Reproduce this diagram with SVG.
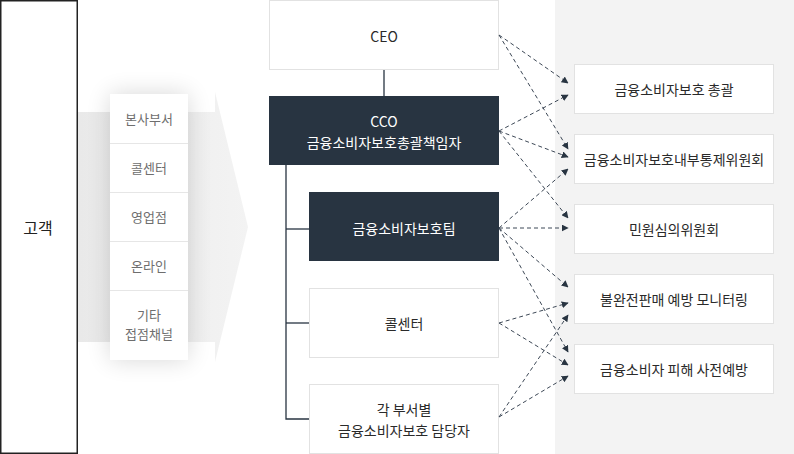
<svg xmlns="http://www.w3.org/2000/svg" width="794" height="454" viewBox="0 0 794 454">
<defs>
<style>
text{font-family:"Noto Sans CJK KR","Noto Sans",sans-serif;text-anchor:middle;dominant-baseline:central}
.wbox{fill:#fff;stroke:#e2e2e2;stroke-width:1}
.dbox{fill:#283441}
.t{font-size:14px;fill:#2a2a2a}
.tw{font-size:14px;fill:#fff}
.ch{font-size:13px;fill:#6e6e6e}
.sep{stroke:#e6e6e6;stroke-width:1}
.tree{stroke:#283441;stroke-width:1.3;fill:none}
.dash{stroke:#3d4856;stroke-width:1;stroke-dasharray:4 3;fill:none;marker-end:url(#ah)}
</style>
<marker id="ah" viewBox="0 0 10 10" refX="9" refY="5" markerWidth="7" markerHeight="7" orient="auto" markerUnits="userSpaceOnUse">
<path d="M0,0 L10,5 L0,10 z" fill="#283441"/>
</marker>
<linearGradient id="arrowg" x1="0" y1="0" x2="1" y2="0">
<stop offset="0" stop-color="#e9e9e9"/>
<stop offset="1" stop-color="#f3f3f3"/>
</linearGradient>
<filter id="sh" x="-60%" y="-30%" width="220%" height="160%">
<feGaussianBlur in="SourceAlpha" stdDeviation="12"/>
<feComponentTransfer><feFuncA type="linear" slope="0.16"/></feComponentTransfer>
<feMerge><feMergeNode/><feMergeNode in="SourceGraphic"/></feMerge>
</filter>
</defs>
<rect x="0" y="0" width="794" height="454" fill="#fff"/>
<rect x="555" y="0" width="239" height="454" fill="#f3f3f3"/>

<g id="customer">
<rect x="0.75" y="0.75" width="76.5" height="452.5" fill="#fff" stroke="#222" stroke-width="1.5"/>
<text x="38" y="227" style="font-size:16px;fill:#222">고객</text>
</g>

<g id="channel-arrow">
<polygon points="78,112 215,112 215,92 248,227 215,362 215,342 78,342" fill="url(#arrowg)"/>
</g>

<g id="channels">
<rect x="110" y="94" width="78" height="266" fill="#fff" filter="url(#sh)"/>
<line class="sep" x1="110" y1="143.5" x2="188" y2="143.5"/>
<line class="sep" x1="110" y1="192.5" x2="188" y2="192.5"/>
<line class="sep" x1="110" y1="241.5" x2="188" y2="241.5"/>
<line class="sep" x1="110" y1="290.5" x2="188" y2="290.5"/>
<text class="ch" x="149" y="118">본사부서</text>
<text class="ch" x="149" y="167">콜센터</text>
<text class="ch" x="149" y="216">영업점</text>
<text class="ch" x="149" y="265">온라인</text>
<text class="ch" x="149" y="314">기타</text>
<text class="ch" x="149" y="333">접점채널</text>
</g>

<g id="tree">
<line class="tree" x1="384" y1="69" x2="384" y2="96"/>
<polyline class="tree" points="286,165 286,419 309,419"/>
<line class="tree" x1="286" y1="229" x2="309" y2="229"/>
<line class="tree" x1="286" y1="323" x2="309" y2="323"/>
</g>

<g id="ceo">
<rect class="wbox" x="269.5" y="0.5" width="229" height="69"/>
<text class="t" x="384" y="36">CEO</text>
</g>
<g id="cco">
<rect class="dbox" x="269" y="96" width="230" height="69"/>
<text class="tw" x="384" y="121">CCO</text>
<text class="tw" x="384" y="142">금융소비자보호총괄책임자</text>
</g>
<g id="team">
<rect class="dbox" x="309" y="192" width="190" height="69"/>
<text class="tw" x="404" y="228">금융소비자보호팀</text>
</g>
<g id="callcenter">
<rect class="wbox" x="309.5" y="288.5" width="189" height="69"/>
<text class="t" x="404" y="323">콜센터</text>
</g>
<g id="dept">
<rect class="wbox" x="309.5" y="384.5" width="189" height="69"/>
<text class="t" x="404" y="409">각 부서별</text>
<text class="t" x="404" y="430">금융소비자보호 담당자</text>
</g>

<g id="r1">
<rect class="wbox" x="574.5" y="64.5" width="199" height="49"/>
<text class="t" x="674" y="88.5">금융소비자보호 총괄</text>
</g>
<g id="r2">
<rect class="wbox" x="574.5" y="134.5" width="199" height="49"/>
<text class="t" x="674" y="158.5">금융소비자보호내부통제위원회</text>
</g>
<g id="r3">
<rect class="wbox" x="574.5" y="204.5" width="199" height="49"/>
<text class="t" x="674" y="228.5">민원심의위원회</text>
</g>
<g id="r4">
<rect class="wbox" x="574.5" y="274.5" width="199" height="49"/>
<text class="t" x="674" y="298.5">불완전판매 예방 모니터링</text>
</g>
<g id="r5">
<rect class="wbox" x="574.5" y="344.5" width="199" height="49"/>
<text class="t" x="674" y="368.5">금융소비자 피해 사전예방</text>
</g>

<g id="connectors">
<line class="dash" x1="499" y1="35" x2="568" y2="83"/>
<line class="dash" x1="499" y1="35" x2="568" y2="149"/>
<line class="dash" x1="499" y1="131" x2="568" y2="95"/>
<line class="dash" x1="499" y1="131" x2="568" y2="157"/>
<line class="dash" x1="499" y1="131" x2="568" y2="218"/>
<line class="dash" x1="499" y1="228" x2="568" y2="169"/>
<line class="dash" x1="499" y1="228" x2="568" y2="228"/>
<line class="dash" x1="499" y1="228" x2="568" y2="287"/>
<line class="dash" x1="499" y1="228" x2="568" y2="352"/>
<line class="dash" x1="499" y1="323" x2="568" y2="303"/>
<line class="dash" x1="499" y1="323" x2="568" y2="365"/>
<line class="dash" x1="499" y1="417" x2="568" y2="315"/>
<line class="dash" x1="499" y1="417" x2="568" y2="376"/>
</g>
</svg>
